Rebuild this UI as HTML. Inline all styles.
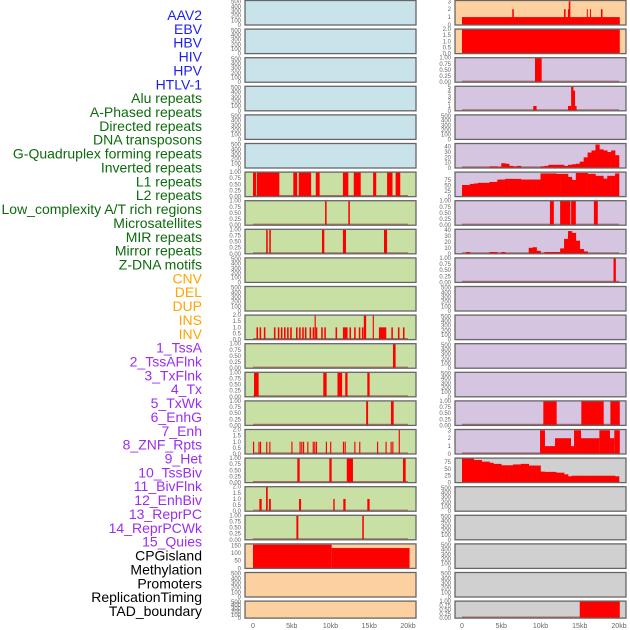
<!DOCTYPE html>
<html><head><meta charset="utf-8">
<style>
html,body{margin:0;padding:0;background:#fff;width:630px;height:630px;overflow:hidden}
svg{display:block}
text{font-family:"Liberation Sans",sans-serif}
</style></head>
<body>
<svg id="chart" width="630" height="630" xmlns="http://www.w3.org/2000/svg"></svg>
<script>
// ---------- data ----------
const trackLabels = ["AAV2","EBV","HBV","HIV","HPV","HTLV-1","Alu repeats","A-Phased repeats","Directed repeats","DNA transposons","G-Quadruplex forming repeats","Inverted repeats","L1 repeats","L2 repeats","Low_complexity A/T rich regions","Microsatellites","MIR repeats","Mirror repeats","Z-DNA motifs","CNV","DEL","DUP","INS","INV","1_TssA","2_TssAFlnk","3_TxFlnk","4_Tx","5_TxWk","6_EnhG","7_Enh","8_ZNF_Rpts","9_Het","10_TssBiv","11_BivFlnk","12_EnhBiv","13_ReprPC","14_ReprPCWk","15_Quies","CPGisland","Methylation","Promoters","ReplicationTiming","TAD_boundary"];
const labelGroups = ["virus","virus","virus","virus","virus","virus","rep","rep","rep","rep","rep","rep","rep","rep","rep","rep","rep","rep","rep","sv","sv","sv","sv","sv","chrom","chrom","chrom","chrom","chrom","chrom","chrom","chrom","chrom","chrom","chrom","chrom","chrom","chrom","chrom","other","other","other","other","other"];
const xTicks = [0,5,10,15,20];
const xTickLabels = ["0","5kb","10kb","15kb","20kb"];

// intervals: [startKb, endKb, value]
const leftL1 = [[0,0.4,1],[0.5,3.4,1],[5.2,5.7,1],[5.9,7.5,1],[8.1,8.6,1],[11.6,12.3,1],[13.0,13.9,1],[15.5,15.9,1],[17.3,18.0,1],[18.4,19.0,1]];
const leftL2 = [[9.3,9.5,1],[12.3,12.5,1]];
const leftLowComplex = [[1.7,1.9,1],[2.1,2.3,1],[8.9,9.2,1],[11.6,12.0,1],[16.9,17.3,1]];
const leftDUP = [[0.45,0.65,1],[0.85,1.05,1],[1.4,1.6,1],[2.7,2.9,1],[3.2,3.4,1],[3.6,3.8,1],[4.0,4.2,1],[4.4,4.6,1],[4.8,5.0,1],[5.55,5.75,1],[5.95,6.15,1],[6.35,6.55,1],[6.7,6.9,1],[7.3,7.5,1],[7.7,7.9,1],[7.95,8.1,2],[8.1,8.3,1],[8.8,9.0,1],[9.2,9.4,1],[10.65,10.85,1],[11.6,11.8,1],[11.8,12.2,1],[12.45,12.65,1],[13.05,13.25,1],[13.65,13.85,1],[14.05,14.25,1],[14.3,14.6,2],[15.45,15.6,2],[16.25,16.45,1],[16.45,17.2,1],[17.85,18.05,1],[18.7,18.9,1],[19.35,19.55,1]];
const leftTssA = [[18.06,18.4,1]];
const leftTssAFlnk = [[0.13,0.73,1],[9.07,9.5,1],[10.9,11.5,1],[11.9,12.2,1],[14.75,15.05,1]];
const leftTxFlnk = [[14.6,14.85,1],[17.8,18.15,1]];
const leftTx = [[0,0.15,1],[0.7,0.85,1],[0.9,1.05,1],[1.7,1.85,1],[2.1,2.25,1],[4.95,5.1,1],[6.0,6.15,1],[6.22,6.37,1],[6.45,6.6,1],[7.0,7.15,1],[7.7,7.85,1],[7.9,8.05,1],[8.12,8.27,1],[9.4,9.55,1],[9.95,10.1,1],[11.6,11.75,1],[11.82,11.97,1],[13.07,13.22,1],[13.7,13.85,1],[16.0,16.15,1],[17.1,17.25,1],[17.75,17.9,1],[17.97,18.12,1],[18.8,18.95,2]];
const leftTxWk = [[5.72,6.02,1],[9.85,10.15,1],[12.1,12.9,1],[19.35,19.7,1]];
const leftEnhG = [[0.82,1.12,1],[1.68,1.9,2],[2.07,2.3,1],[5.94,6.2,1],[10.36,10.54,1],[11.65,11.95,1],[14.75,15.05,1]];
const leftEnh = [[5.6,5.85,1],[14.1,14.3,1]];
const leftCPG = [[0,10.15,155],[10.15,20.2,133]];

const rightAAV = [[0,20.1,1],[6.4,6.6,2],[13.0,13.2,2],[13.5,13.6,2],[13.6,13.8,3],[15.9,16.0,2],[16.3,16.4,2],[17.7,17.9,2]];
const rightEBV = [[0,20.1,2]];
const rightHIV = [[9.3,10.15,1]];
const rightAlu = [[9.08,9.5,1],[13.5,13.9,1],[13.9,14.2,5],[14.2,14.4,4.2],[14.4,14.6,1]];
const rightL2 = [[11.2,11.7,1],[12.5,13.8,1],[13.9,14.5,1],[16.8,17.3,1]];
const rightZDNA = [[19.3,19.6,1]];
const rightEnhG = [[10.36,12.06,1],[15.2,18.05,1],[18.9,20.1,1]];
const rightZNF = [[9.94,10.57,3],[10.57,11.85,1],[11.85,13.89,2],[13.89,14.27,1],[14.27,15.16,3],[15.16,17.5,2],[17.5,18.85,3],[18.85,19.4,2],[19.4,20.1,3]];
const rightTAD = [[15.0,20.1,1]];

// binned profiles: 40 bins of 0.5 kb
const binWidthKb = 0.5;
const rightGQuad = [0,0,0,0,0,0,0,3,3,2,9,8,4,3,4,1,0,0,0,0,3,4,6,6,6,6,4,6,7,8,12,20,29,33,44,35,33,30,33,24];
const rightInverted = [53,53,58,60,63,63,63,67,67,78,78,81,81,81,81,78,78,78,78,78,106,106,106,106,104,104,104,90,76,108,108,108,104,104,95,95,82,95,95,106];
const rightMIR = [0,3,0,0,0,0,0,3,3,0,3,0,0,0,0,0,0,10,11,5,0,3,3,3,3,9,25,38,35,22,8,4,0,0,0,0,0,0,0,0];
const rightHet = [88,88,88,82,82,76,76,72,68,68,63,63,63,66,66,68,68,62,62,62,40,39,39,39,36,36,30,23,25,25,25,25,25,25,25,25,25,25,25,23];

// ---------- layout ----------
const svg = document.getElementById('chart');
const NS = "http://www.w3.org/2000/svg";
function mk(tag, attrs, parent){const e=document.createElementNS(NS,tag);for(const k in attrs)e.setAttribute(k,attrs[k]);(parent||svg).appendChild(e);return e;}

const groupColor = {virus:"#1f1ff0",rep:"#0d6b0d",sv:"#ffa500",chrom:"#9a2ef0",other:"#000"};
trackLabels.forEach((t,i)=>{
  const el = mk('text',{x:202,y:15+i*13.86+5,'text-anchor':'end','font-size':14,fill:groupColor[labelGroups[i]]});
  el.textContent = t;
  
  
});

const COLS = [{x0:245,w:171,d0:253,d1:408},{x0:455,w:171,d0:462,d1:619}];
const BG = {blue:"#c8e3ea",green:"#c9e0a5",orange:"#fdd09f",purple:"#d6c5e1",gray:"#d0d0d0"};
const T1 = [[0,"0.00"],[0.25,"0.25"],[0.5,"0.50"],[0.75,"0.75"],[1,"1.00"]];
const T2 = [[0,"0.0"],[0.5,"0.5"],[1,"1.0"],[1.5,"1.5"],[2,"2.0"]];
const TE = [[0,"0"],[100,"100"],[200,"200"],[300,"300"],[400,"400"],[500,"500"]];

function rowTop(i){return 0.5+i*28.6;}
function rowH(i){return i===21?17:24.5;}

function panel(col,row,bg,ymax,ticks,intervals,bins,name){
  const c = COLS[col];
  const top=rowTop(row), h=rowH(row);
  const g = mk('g',{});
  
  
  mk('rect',{x:c.x0,y:top,width:c.w,height:h,fill:BG[bg]},g);
  const xs = kb=>c.d0+(c.d1-c.d0)*kb/20;
  const ys = v=>top+h-(Math.min(v,ymax)/ymax)*h;
  if(intervals||bins) mk('line',{x1:xs(0),x2:xs(20),y1:top+h-1,y2:top+h-1,stroke:"#a04040","stroke-width":1.2,opacity:0.7},g);
  if(intervals) intervals.forEach(iv=>{
    const r = mk('rect',{x:xs(iv[0]),y:ys(iv[2]),width:Math.max(1,xs(iv[1])-xs(iv[0])),height:top+h-ys(iv[2]),fill:"#ff0000"},g);
    
    
  });
  if(bins) bins.forEach((v,k)=>{
    if(v<=0) return;
    const r = mk('rect',{x:xs(k*binWidthKb),y:ys(v),width:xs((k+1)*binWidthKb)-xs(k*binWidthKb)+0.3,height:top+h-ys(v),fill:"#ff0000"},g);
    
    
  });
  mk('rect',{x:c.x0,y:top,width:c.w,height:h,fill:"none",stroke:"#666","stroke-width":1.3},g);
  ticks.forEach(t=>{
    const tl = mk('text',{x:c.x0-4,y:ys(t[0])+2,'text-anchor':'end','font-size':6,fill:"#666"},g);
    tl.textContent = t[1];
    
    
  });
}

// left column
for(let r=0;r<6;r++) panel(0,r,"blue",525,TE,null,null,"left-panel-empty");
panel(0,6,"green",1,T1,leftL1,null,"left-panel-l1");
panel(0,7,"green",1,T1,leftL2,null,"left-panel-l2");
panel(0,8,"green",1,T1,leftLowComplex,null,"left-panel-low-complexity");
panel(0,9,"green",525,TE,null,null,"left-panel-empty");
panel(0,10,"green",525,TE,null,null,"left-panel-empty");
panel(0,11,"green",2,T2,leftDUP,null,"left-panel-dup");
panel(0,12,"green",1,T1,leftTssA,null,"left-panel-tssa");
panel(0,13,"green",1,T1,leftTssAFlnk,null,"left-panel-tssaflnk");
panel(0,14,"green",1,T1,leftTxFlnk,null,"left-panel-txflnk");
panel(0,15,"green",2,T2,leftTx,null,"left-panel-tx");
panel(0,16,"green",1,T1,leftTxWk,null,"left-panel-txwk");
panel(0,17,"green",2,T2,leftEnhG,null,"left-panel-enhg");
panel(0,18,"green",1,T1,leftEnh,null,"left-panel-enh");
panel(0,19,"orange",160,[[0,"0"],[50,"50"],[100,"100"],[150,"150"]],leftCPG,null,"left-panel-cpg");
panel(0,20,"orange",525,TE,null,null,"left-panel-empty");
panel(0,21,"orange",525,TE,null,null,"left-panel-empty");

// right column
panel(1,0,"orange",3.1,[[0,"0"],[1,"1"],[2,"2"],[3,"3"]],rightAAV,null,"right-panel-aav");
panel(1,1,"orange",2,T2,rightEBV,null,"right-panel-ebv");
panel(1,2,"purple",1,T1,rightHIV,null,"right-panel-hiv");
panel(1,3,"purple",5.1,[[0,"0"],[1,"1"],[2,"2"],[3,"3"],[4,"4"],[5,"5"]],rightAlu,null,"right-panel-alu");
panel(1,4,"purple",525,TE,null,null,"right-panel-empty");
panel(1,5,"purple",46,[[0,"0"],[10,"10"],[20,"20"],[30,"30"],[40,"40"]],null,rightGQuad,"right-panel-gquad");
panel(1,6,"purple",112,[[0,"0"],[25,"25"],[50,"50"],[75,"75"]],null,rightInverted,"right-panel-inverted");
panel(1,7,"purple",1,T1,rightL2,null,"right-panel-l2");
panel(1,8,"purple",41,[[0,"0"],[10,"10"],[20,"20"],[30,"30"],[40,"40"]],null,rightMIR,"right-panel-mir");
panel(1,9,"purple",1,T1,rightZDNA,null,"right-panel-zdna");
for(let r=10;r<14;r++) panel(1,r,"purple",525,TE,null,null,"right-panel-empty");
panel(1,14,"purple",1,T1,rightEnhG,null,"right-panel-enhg");
panel(1,15,"purple",3.1,[[0,"0"],[1,"1"],[2,"2"],[3,"3"]],rightZNF,null,"right-panel-znf");
panel(1,16,"gray",89,[[0,"0"],[25,"25"],[50,"50"],[75,"75"]],null,rightHet,"right-panel-het");
for(let r=17;r<21;r++) panel(1,r,"gray",525,TE,null,null,"right-panel-empty");
panel(1,21,"gray",1,T1,rightTAD,null,"right-panel-tad");

// x axes
COLS.forEach(c=>{
  xTicks.forEach((t,k)=>{
    const tl = mk('text',{x:c.d0+(c.d1-c.d0)*t/20,y:628,'text-anchor':'middle','font-size':7,fill:"#666"});
    tl.textContent = xTickLabels[k];
    
    
  });
});
</script>
</body></html>
